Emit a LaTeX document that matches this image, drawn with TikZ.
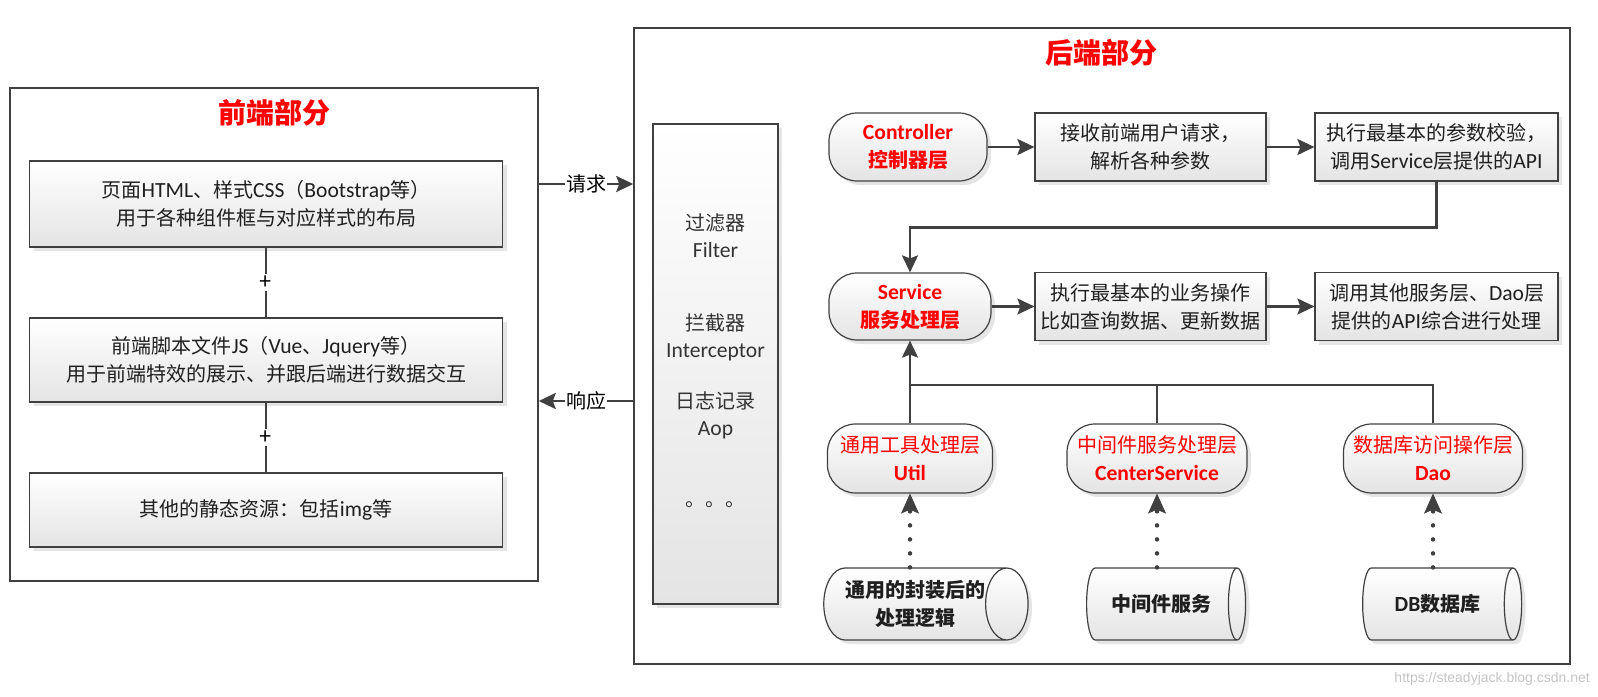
\documentclass[tikz,border=0pt]{standalone}
\usepackage{fontspec}
\setmainfont{Noto Sans CJK SC}
\newfontfamily\latfont{Carlito}[Scale=1.08]
\newfontfamily\urlfont{Liberation Sans}
\newcommand\ltn[1]{{\latfont #1}}
\usetikzlibrary{arrows.meta, shapes.geometric, shadows}
\definecolor{lnGray}{HTML}{404040}
\definecolor{boxBot}{HTML}{E4E4E4}
\definecolor{hdRed}{HTML}{FF0000}
\definecolor{urlGray}{HTML}{C4C4C4}

\tikzset{
  panel/.style={draw=lnGray, line width=1.5pt, fill=white, inner sep=0pt},
  hdtitle/.style={text=hdRed, font=\fontsize{28}{32}\selectfont\bfseries},
  gbox/.style={draw=lnGray, line width=1.2pt, top color=white, bottom color=boxBot,
    drop shadow={shadow xshift=4pt, shadow yshift=-4pt, opacity=0.2},
    align=center, inner sep=0pt, text=black!88, font=\fontsize{20}{28}\selectfont},
  rbox/.style={gbox, rounded corners=28pt, text=hdRed},
  rboxb/.style={rbox, font=\fontsize{20}{28}\selectfont\bfseries},
  dbcyl/.style={gbox, cylinder, shape aspect=0.9, font=\fontsize{20}{28}\selectfont\bfseries},
  coltext/.style={align=center, inner sep=0pt, text=black!80, font=\fontsize{20}{27}\selectfont},
  plusmark/.style={fill=white, inner sep=2pt, font=\fontsize{22}{24}\selectfont},
  conn/.style={draw=lnGray, line width=2.4pt},
  arr/.style={conn, -{Stealth[length=17pt, width=16pt, inset=3pt]}},
  dotarr/.style={draw=lnGray, line width=4.5pt, line cap=round, dash pattern=on 0pt off 14pt,
    -{Stealth[length=20pt, width=18pt, inset=4pt, line width=0.8pt]}},
}

\begin{document}
\begin{tikzpicture}[x=1pt, y=-1pt]
  \useasboundingbox (0,0) rectangle (1598,696);
  % 前端部分
  \node[panel, minimum width=528pt, minimum height=493pt] (front) at (274,334.5) {};
  \node[hdtitle] (fronttitle) at (274,113) {前端部分};
  \node[gbox, minimum width=473pt, minimum height=86pt] (page) at (266,204) {页面\ltn{HTML}、样式\ltn{CSS}（\ltn{Bootstrap}等）\\用于各种组件框与对应样式的布局};
  \node[gbox, minimum width=473pt, minimum height=84pt] (script) at (266,360) {前端脚本文件\ltn{JS}（\ltn{Vue}、\ltn{Jquery}等）\\用于前端特效的展示、并跟后端进行数据交互};
  \node[gbox, minimum width=473pt, minimum height=74pt] (static) at (266,510) {其他的静态资源：包括\ltn{img}等};
  \draw[conn] (page) -- node[plusmark] {+} (script);
  \draw[conn] (script) -- node[plusmark] {+} (static);

  % 后端部分
  \node[panel, minimum width=936pt, minimum height=636pt] (back) at (1102,346) {};
  \node[hdtitle] (backtitle) at (1101,53) {后端部分};

  % 请求 / 响应
  \draw[arr] (front.east |- 0,184) -- node[fill=white, inner sep=1pt, font=\fontsize{20}{24}\selectfont] {请求} (back.west |- 0,184);
  \draw[arr] (back.west |- 0,401) -- node[fill=white, inner sep=1pt, font=\fontsize{20}{24}\selectfont] {响应} (front.east |- 0,401);

  % 过滤器 拦截器
  \node[gbox, minimum width=125pt, minimum height=480pt] (filter) at (715.5,364) {};
  \node[coltext] (flt) at (715.5,236) {过滤器\\\ltn{Filter}};
  \node[coltext] (icp) at (715.5,337) {拦截器\\\ltn{Interceptor}};
  \node[coltext] (aop) at (715.5,415) {日志记录\\\ltn{Aop}};
  \node[coltext] (etc) at (715.5,505) {。。。};

  % Controller
  \node[rboxb, minimum width=158pt, minimum height=68pt] (ctrl) at (908,147) {\ltn{Controller}\\控制器层};
  \node[gbox, minimum width=231pt, minimum height=68pt] (recv) at (1150.5,147) {接收前端用户请求，\\解析各种参数};
  \node[gbox, minimum width=243pt, minimum height=68pt] (check) at (1436.5,147) {执行最基本的参数校验，\\调用\ltn{Service}层提供的\ltn{API}};
  \draw[arr] (ctrl.east) -- (recv.west);
  \draw[arr] (recv.east) -- (check.west);

  % Service
  \node[rboxb, minimum width=162pt, minimum height=67pt] (service) at (910,306.5) {\ltn{Service}\\服务处理层};
  \node[gbox, minimum width=231pt, minimum height=68pt] (biz) at (1150.5,306.5) {执行最基本的业务操作\\比如查询数据、更新数据};
  \node[gbox, minimum width=243pt, minimum height=68pt] (call) at (1436.5,306.5) {调用其他服务层、\ltn{Dao}层\\提供的\ltn{API}综合进行处理};
  \draw[arr] (check.south) -- ++(0,46) -| (service.north);
  \draw[arr] (service.east) -- (biz.west);
  \draw[arr] (biz.east) -- (call.west);

  % Util / CenterService / Dao
  \node[rbox, minimum width=165pt, minimum height=69pt] (util) at (910,458.5) {通用工具处理层\\\textbf{\ltn{Util}}};
  \node[rbox, minimum width=180pt, minimum height=69pt] (mids) at (1157,458.5) {中间件服务处理层\\\textbf{\ltn{CenterService}}};
  \node[rbox, minimum width=179pt, minimum height=69pt] (dao) at (1433,458.5) {数据库访问操作层\\\textbf{\ltn{Dao}}};
  \draw[arr] (util.north) -- (service.south);
  \draw[conn] (mids.north) |- (util.north |- 0,385);
  \draw[conn] (dao.north) |- (util.north |- 0,385);

  % 数据源
  \node[dbcyl, minimum height=200pt, minimum width=72pt] (cylA) at (915,604) {通用的封装后的\\处理逻辑};
  \node[dbcyl, minimum height=159pt, minimum width=72pt] (cylB) at (1161.5,604) {中间件服务};
  \node[dbcyl, minimum height=159pt, minimum width=72pt] (cylC) at (1437.5,604) {\ltn{DB}数据库};
  \draw[dotarr] (cylA.north -| util.south) -- (util.south);
  \draw[dotarr] (cylB.north -| mids.south) -- (mids.south);
  \draw[dotarr] (cylC.north -| dao.south) -- (dao.south);

  \node[anchor=east, inner sep=0pt, text=urlGray, font=\fontsize{14}{16}\selectfont\urlfont] (url) at (1590,679) {https://steadyjack.blog.csdn.net};
\end{tikzpicture}
\end{document}
